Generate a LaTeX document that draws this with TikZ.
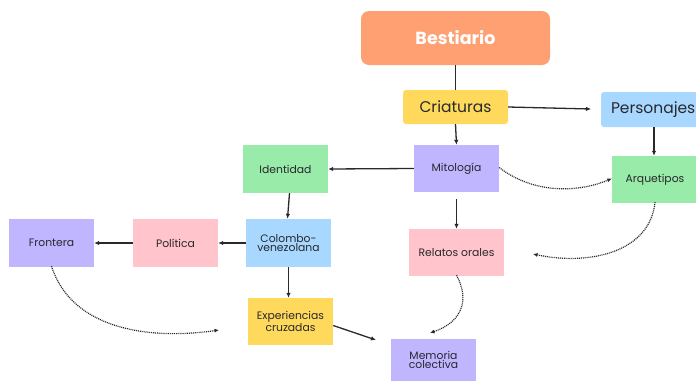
\documentclass[tikz,border=0pt]{standalone}
\usepackage{fontspec}
\setmainfont{Poppins}
\usetikzlibrary{arrows.meta}
\definecolor{csalmon}{RGB}{255,160,115}
\definecolor{cyellow}{RGB}{255,217,92}
\definecolor{cblue}{RGB}{168,216,255}
\definecolor{cgreen}{RGB}{152,235,168}
\definecolor{cpurple}{RGB}{192,182,255}
\definecolor{cpink}{RGB}{255,196,204}
\definecolor{ctext}{RGB}{40,40,45}
\tikzset{
  box/.style={rectangle, inner sep=0pt, align=center, text=ctext, font=\fontsize{10.8}{9.6}\selectfont},
  arr/.style={-{Latex[length=5pt,width=4.5pt]}, line width=1.3pt, draw=ctext},
  plain/.style={line width=1.3pt, draw=ctext},
  dots/.style={-{Latex[length=4.5pt,width=4pt]}, line width=1.2pt, draw=ctext, dash pattern=on 1pt off 0.9pt},
}
\begin{document}
\begin{tikzpicture}[x=1pt,y=-1pt]
\useasboundingbox (0,0) rectangle (696,381);
\clip (0,0) rectangle (696,381);
\node[box, fill=csalmon, rounded corners=8pt, minimum width=189pt, minimum height=54pt, text=white, font=\fontsize{17.5}{19}\selectfont\bfseries] (best) at (455.5,38) {Bestiario};
\node[box, fill=cyellow, rounded corners=3pt, minimum width=105pt, minimum height=34pt, font=\fontsize{15.5}{17}\selectfont] (cria) at (455.5,107) {Criaturas};
\node[box, fill=cblue, rounded corners=3pt, minimum width=112pt, minimum height=35pt, font=\fontsize{15.5}{17}\selectfont, text width=92pt, align=left] (pers) at (657,109.5) {\makebox[92pt][l]{Personajes}};
\node[box, fill=cgreen, minimum width=85pt, minimum height=48pt] (iden) at (285.5,169) {Identidad};
\node[box, fill=cpurple, minimum width=85pt, minimum height=47pt] (mito) at (456.5,168.5) {Mitología};
\node[box, fill=cgreen, minimum width=86pt, minimum height=47pt] (arq) at (655,179.5) {Arquetipos};
\node[box, fill=cpurple, minimum width=85pt, minimum height=48pt] (fron) at (51.5,243) {Frontera};
\node[box, fill=cpink, minimum width=85pt, minimum height=48pt] (poli) at (175.5,243) {Política};
\node[box, fill=cblue, minimum width=85pt, minimum height=48pt] (colo) at (288.5,243) {Colombo-\\venezolana};
\node[box, fill=cpink, minimum width=95pt, minimum height=47pt] (rela) at (456.5,252.5) {Relatos orales};
\node[box, fill=cyellow, minimum width=85pt, minimum height=47pt] (expe) at (290.5,321.5) {Experiencias\\cruzadas};
\node[box, fill=cpurple, minimum width=85pt, minimum height=42pt] (memo) at (433.5,360) {Memoria\\colectiva};

\coordinate (pershead) at (591,109);
\coordinate (memohead) at (376,340);
\coordinate (relahead) at (533,254);
\coordinate (memohead2) at (430,333);
\coordinate (fronhead) at (219,330);

\draw[plain] (best.south) -- (cria.north);
\draw[arr] (cria.south) -- (mito.north);
\draw[arr] (cria.east) -- (pershead);
\draw[arr] ([xshift=-3pt]pers.south) -- ([xshift=-1pt]arq.north);
\draw[arr] (mito.west) -- (iden.east);
\draw[arr] ([xshift=4pt]iden.south) -- ([xshift=-1pt]colo.north);
\draw[arr] (colo.west) -- (poli.east);
\draw[arr] (poli.west) -- (fron.east);
\draw[arr] (colo.south) -- ([xshift=-2pt]expe.north);
\draw[arr] ([yshift=-4pt]expe.east) -- (memohead);
\draw[arr, shorten <=7pt] (mito.south) -- (rela.north);

\draw[dots] ([yshift=1pt]mito.east) .. controls (535,195) and (580,192) .. ([yshift=1pt]arq.west);
\draw[dots] ([yshift=1pt]arq.south) .. controls (650,252) and (590,266) .. (relahead);
\draw[dots] ([yshift=1pt]rela.south) .. controls (470,300) and (462,322) .. (memohead2);
\draw[dots] ([yshift=1pt]fron.south) .. controls (72,330) and (150,340) .. (fronhead);
\end{tikzpicture}
\end{document}
